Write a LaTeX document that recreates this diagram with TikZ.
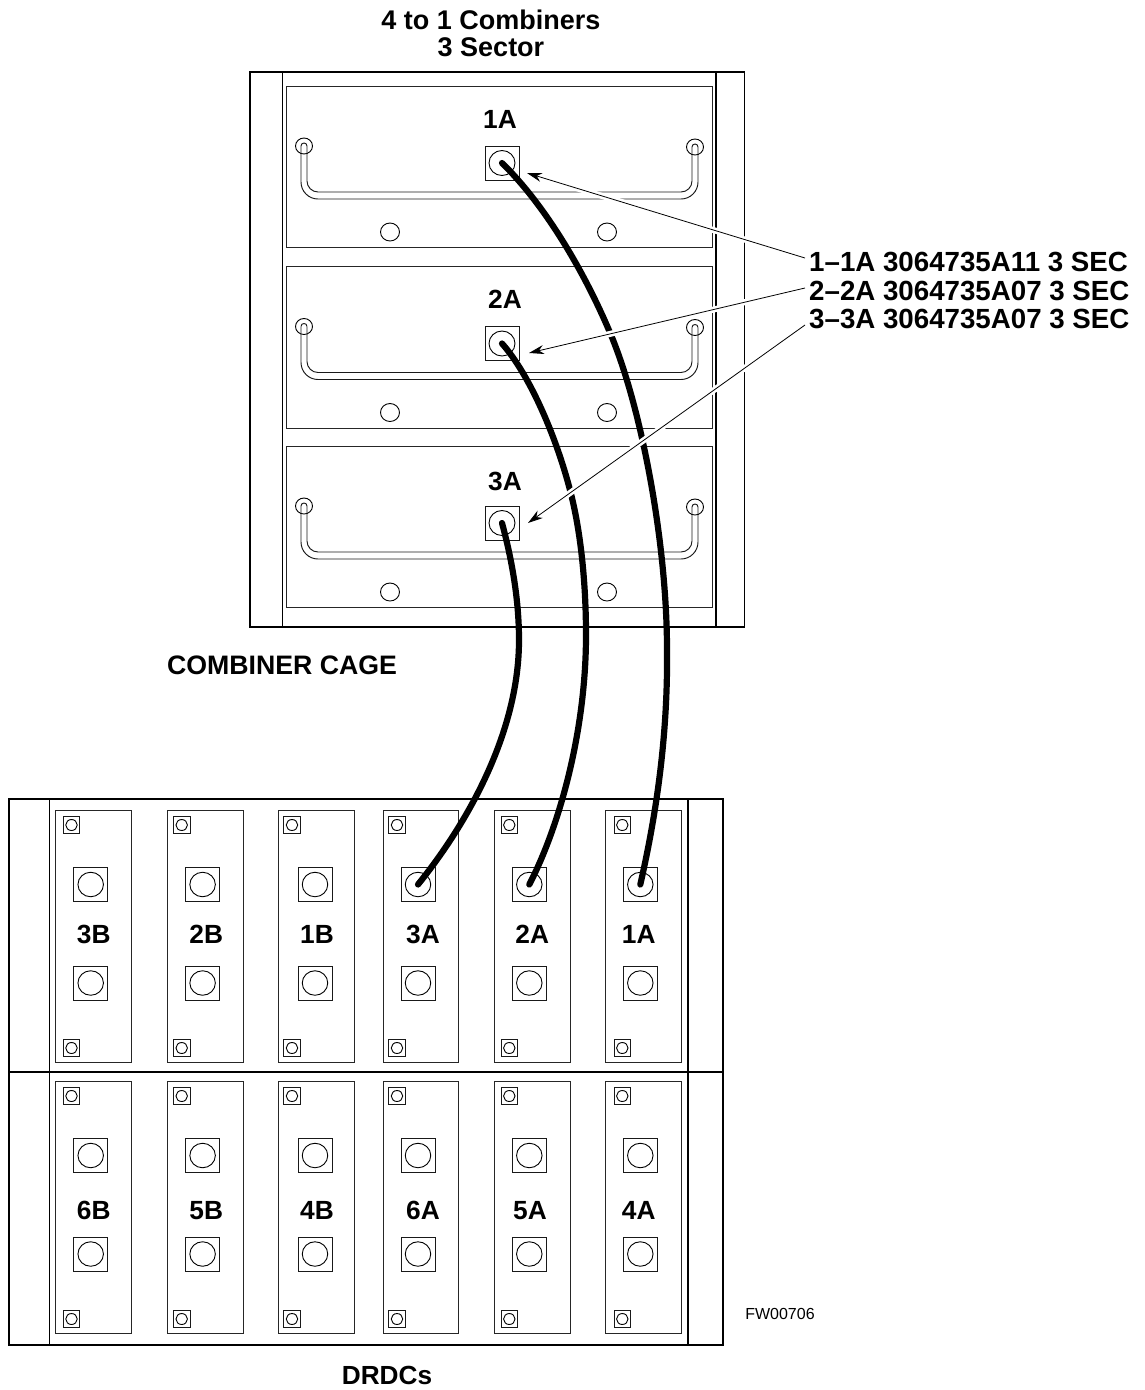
\documentclass[tikz,border=0pt]{standalone}
\usepackage{fontspec}
\setmainfont{Liberation Sans}
\usetikzlibrary{arrows.meta,shapes.geometric}
\tikzset{
  x=1pt,y=-1pt,
  outer/.style={draw=black,line width=1.9pt},
  divider/.style={draw=black,line width=1.2pt},
  thinbox/.style={draw=black!85,line width=0.9pt},
  conn/.style={draw=black!90,line width=0.9pt,minimum size=34pt,inner sep=0pt,shape=rectangle},
  hole/.style n args={2}{draw=black,line width=0.9pt,ellipse,minimum width=#1,minimum height=#2,inner sep=0pt},
  tiny/.style={draw=black!90,line width=0.9pt,minimum size=16.5pt,inner sep=0pt,shape=rectangle},
  lab/.style={font=\fontsize{26.3}{30}\selectfont\bfseries,inner sep=0pt,anchor=center,text height=18.5pt,text depth=0pt},
  longlab/.style={font=\fontsize{27.7}{30}\selectfont\bfseries,inner sep=0pt,anchor=west,text height=19pt,text depth=0pt},
  headlab/.style={font=\fontsize{27}{30}\selectfont\bfseries,inner sep=0pt,anchor=center,text height=19pt,text depth=0pt},
  cable/.style={draw=black,line width=6.2pt,line cap=round,line join=round},
  leader/.style={draw=black,line width=0.8pt,-{Stealth[length=15pt,width=9pt]},
    preaction={draw=white,line width=6pt,arrows=-}},
  handleline/.style={draw=black!90,line width=0.95pt},
}
\newcommand{\handle}[1]{%
  \draw[handleline,rounded corners=17] (301,#1+60) -- (301,#1+113) -- (698,#1+113) -- (698,#1+61);
  \draw[handleline,rounded corners=11] (307,#1+60) -- (307,#1+106) -- (692,#1+106) -- (692,#1+61);
  \draw[handleline] (301,#1+60) .. controls (301,#1+56) and (307,#1+56) .. (307,#1+60);
  \draw[handleline] (692,#1+61) .. controls (692,#1+57) and (698,#1+57) .. (698,#1+61);
}
\newcommand{\panel}[8]{% x0 x1 ytop cx smallx name label labpos
  \draw[thinbox] (#1,#3) rectangle (#2,#3+252);
  \node[tiny] (#6a) at (#5,#3+15) {};
  \node[hole={11.5pt}{11pt}] (#6b) at (#5,#3+15) {};
  \node[tiny] (#6c) at (#5,#3+238) {};
  \node[hole={11.5pt}{11pt}] (#6d) at (#5,#3+238) {};
  \node[conn] (#6u) at (#4,#3+74.5) {};
  \node[hole={25.5pt}{24.5pt}] (#6v) at (#4,#3+74.5) {};
  \node[conn] (#6l) at (#4,#3+173) {};
  \node[hole={25.5pt}{24.5pt}] (#6m) at (#4,#3+173) {};
  \node[lab] (#6t) at (#8) {#7};
}
\begin{document}
\begin{tikzpicture}
\useasboundingbox (0,0) rectangle (1144,1390);
% combiner cage
\draw[outer] (250,72) rectangle (744.5,627);
\draw[outer] (282.5,72) -- (282.5,627);
\draw[outer] (716,72) -- (716,627);
\foreach \yy/\nn in {86/1,266.5/2,446/3}{
  \draw[thinbox] (286.3,\yy) rectangle (712.8,\yy+161.5);
  \node[hole={19pt}{18pt}] (hl\nn) at (390,\yy+146) {};
  \node[hole={19pt}{18pt}] (hr\nn) at (607,\yy+146) {};
  \node[hole={17pt}{16pt}] (kl\nn) at (304,\yy+60) {};
  \node[hole={17pt}{16pt}] (kr\nn) at (695,\yy+61) {};
  \handle{\yy}
  \node[conn,fill=white] (c\nn) at (502,\yy+77) {};
  \node[hole={26pt}{25pt}] (ch\nn) at (502,\yy+77) {};
}
\node[lab] (l1) at (500,119) {1A};
\node[lab] (l2) at (505,299) {2A};
\node[lab] (l3) at (505,481) {3A};
% DRDC rack
\draw[outer] (9,799) rectangle (722.7,1345);
\draw[outer] (9,1072.3) -- (722.7,1072.3);
\draw[divider] (49.3,799) -- (49.3,1345);
\draw[divider] (688,799) -- (688,1345);
\panel{55}{131}{810}{90.7}{71.5}{p}{3B}{93.7,934}
\panel{167}{243}{810}{202.6}{181.7}{q}{2B}{206.3,934}
\panel{278}{354}{810}{315}{292}{r}{1B}{317,934}
\panel{383}{458}{810}{418}{397}{dc}{3A}{423,934}
\panel{494}{570}{810}{529.3}{509.3}{db}{2A}{532.3,934}
\panel{605}{681}{810}{640.3}{622.3}{da}{1A}{638.8,934}
\panel{55}{131}{1081}{90.7}{71.5}{s}{6B}{93.7,1210}
\panel{167}{243}{1081}{202.6}{181.7}{t}{5B}{206.3,1210}
\panel{278}{354}{1081}{315}{292}{u}{4B}{317,1210}
\panel{383}{458}{1081}{418}{397}{v}{6A}{423,1210}
\panel{494}{570}{1081}{529.3}{509.3}{w}{5A}{530,1210}
\panel{605}{681}{1081}{640.3}{622.3}{x}{4A}{638.8,1210}
% cables
\draw[cable] (c1.center) .. controls (545,205) and (583,270) .. (608,328)
  .. controls (640,400) and (667,540) .. (667,650)
  .. controls (668,740) and (655,820) .. (dau.center);
\draw[cable] (c2.center) .. controls (530,375) and (558,440) .. (572,498)
  .. controls (582,540) and (586,590) .. (586,635)
  .. controls (586,730) and (560,825) .. (dbu.center);
\draw[cable] (c3.center) .. controls (512,560) and (519,600) .. (519,640)
  .. controls (519,730) and (470,820) .. (dcu.center);
% labels
\node[longlab] (s1) at (809,262) {1–1A 3064735A11 3 SEC};
\node[longlab] (s2) at (809,291) {2–2A 3064735A07 3 SEC};
\node[longlab] (s3) at (809,319) {3–3A 3064735A07 3 SEC};
\coordinate (t1) at (527,173);
\coordinate (t2) at (529,353);
\coordinate (t3) at (528,523);
\draw[leader] ([shift={(-4,-4)}]s1.west) -- (t1);
\draw[leader] ([shift={(-4,-3)}]s2.west) -- (t2);
\draw[leader] ([shift={(-4,6)}]s3.west) -- (t3);
\node[headlab] (title1) at (491,20) {4 to 1 Combiners};
\node[headlab] (title2) at (491,47) {3 Sector};
\node[headlab,font=\fontsize{26.7}{30}\selectfont\bfseries] (cc) at (282,665) {COMBINER CAGE};
\node[headlab,font=\fontsize{26.2}{30}\selectfont\bfseries] (dr) at (387,1375) {DRDCs};
\node[font=\fontsize{16}{18}\selectfont,inner sep=0pt] (fw) at (780,1314) {FW00706};
\end{tikzpicture}
\end{document}
